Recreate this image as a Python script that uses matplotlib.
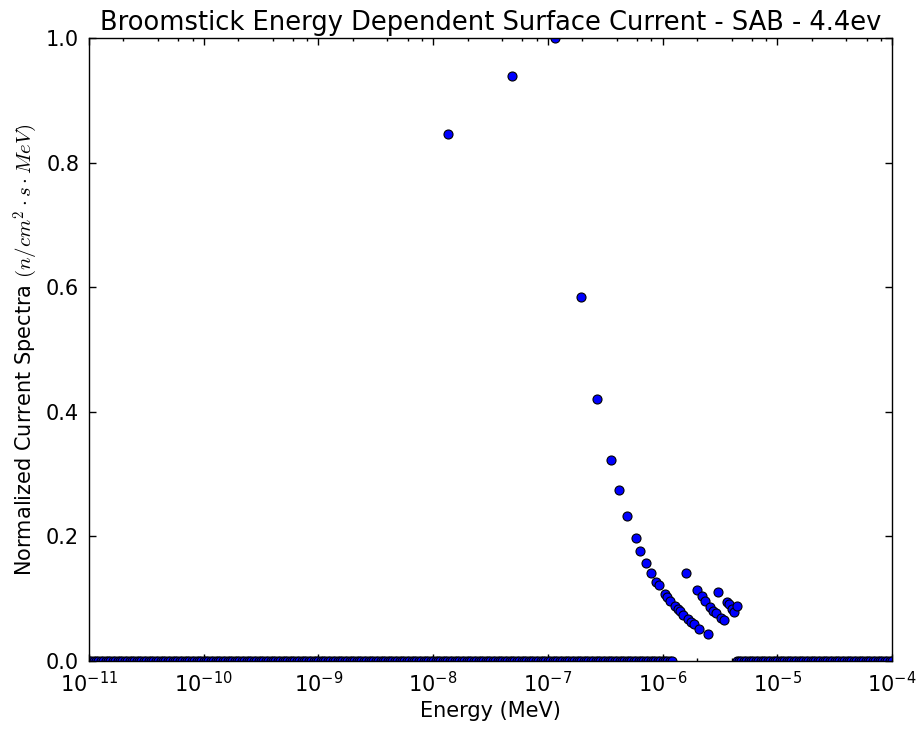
import numpy as np
import matplotlib
matplotlib.use('Agg')
import matplotlib.pyplot as plt
from matplotlib.ticker import LogLocator, NullFormatter

# non-zero current spectra (energy in MeV, normalized current)
energy = [1.35e-8, 4.88e-8, 1.15e-7, 1.95e-7, 2.69e-7, 3.56e-7, 4.20e-7, 4.93e-7,
          5.84e-7, 6.40e-7, 7.13e-7, 7.98e-7, 8.83e-7, 9.31e-7, 1.045e-6, 1.094e-6,
          1.162e-6, 1.286e-6, 1.355e-6, 1.43e-6, 1.52e-6, 1.67e-6, 1.77e-6, 1.88e-6,
          2.09e-6, 2.48e-6,
          1.59e-6, 1.99e-6, 2.21e-6, 2.33e-6, 2.59e-6, 2.75e-6, 2.90e-6, 3.24e-6, 3.41e-6,
          3.06e-6, 3.62e-6, 3.82e-6, 4.03e-6, 4.20e-6, 4.49e-6]
current = [0.846, 0.939, 1.0, 0.584, 0.421, 0.322, 0.274, 0.233,
           0.197, 0.177, 0.158, 0.142, 0.127, 0.122, 0.108, 0.103,
           0.097, 0.088, 0.084, 0.080, 0.074, 0.067, 0.063, 0.059,
           0.052, 0.044,
           0.142, 0.114, 0.104, 0.097, 0.087, 0.081, 0.077, 0.069, 0.066,
           0.111, 0.094, 0.091, 0.084, 0.079, 0.088]

# energy bins where the current is zero (mantissa x decade grid)
zero_mant = [1.00, 1.05, 1.10, 1.15, 1.21, 1.27, 1.33, 1.40, 1.47, 1.54, 1.62, 1.69,
             1.78, 1.87, 1.96, 2.05, 2.15, 2.26, 2.37, 2.49, 2.61, 2.74, 2.87, 3.01,
             3.16, 3.32, 3.48, 3.65, 3.83, 4.02, 4.22, 4.42, 4.64, 4.87, 5.11, 5.36,
             5.62, 5.90, 6.19, 6.49, 6.81, 7.15, 7.50, 7.87, 8.25, 8.66, 9.09, 9.53]
zero_dec = [-11, -10, -9, -8, -7, -6, -5]
zero_gap = [1.25e-6, 4.4e-6]

ez = np.array([m * 10.0**d for d in zero_dec for m in zero_mant] + [1e-4])
ez = ez[(ez < zero_gap[0]) | (ez > zero_gap[1])]
cz = np.zeros(len(ez))

plt.rcParams['mathtext.fontset'] = 'cm'
plt.rcParams['font.family'] = 'DejaVu Sans'

fig = plt.figure(figsize=(9.19, 7.3), dpi=100)
ax = fig.add_axes([0.0968, 0.0945, 0.8738, 0.8535])

ax.plot(ez, cz, 'o', color='b', mec='k', mew=0.8, ms=6.5)
ax.plot(energy, current, 'o', color='b', mec='k', mew=0.8, ms=6.5)

ax.set_xscale('log')
ax.set_xlim(1e-11, 1e-4)
ax.set_ylim(0, 1.0)
ax.xaxis.set_major_locator(LogLocator(base=10, numticks=20))
ax.xaxis.set_minor_locator(LogLocator(base=10, subs=(2, 4, 6, 8), numticks=20))
ax.xaxis.set_minor_formatter(NullFormatter())
ax.set_yticks([0, 0.2, 0.4, 0.6, 0.8, 1.0])
ax.set_yticklabels(['0.0', '0.2', '0.4', '0.6', '0.8', '1.0'])

ax.tick_params(which='both', direction='in', top=True, right=True, labelsize=15, pad=7)
ax.tick_params(which='major', length=5, width=1)
ax.tick_params(which='minor', length=2.5, width=1)
for s in ax.spines.values():
    s.set_linewidth(1.0)

ax.set_xlabel('Energy (MeV)', fontsize=15)
ax.set_ylabel(r'Normalized Current Spectra $(n/cm^2\cdot s\cdot MeV)$', fontsize=15)
ax.set_title('Broomstick Energy Dependent Surface Current - SAB - 4.4ev', fontsize=18.5)

plt.savefig('out.png', dpi=100)
